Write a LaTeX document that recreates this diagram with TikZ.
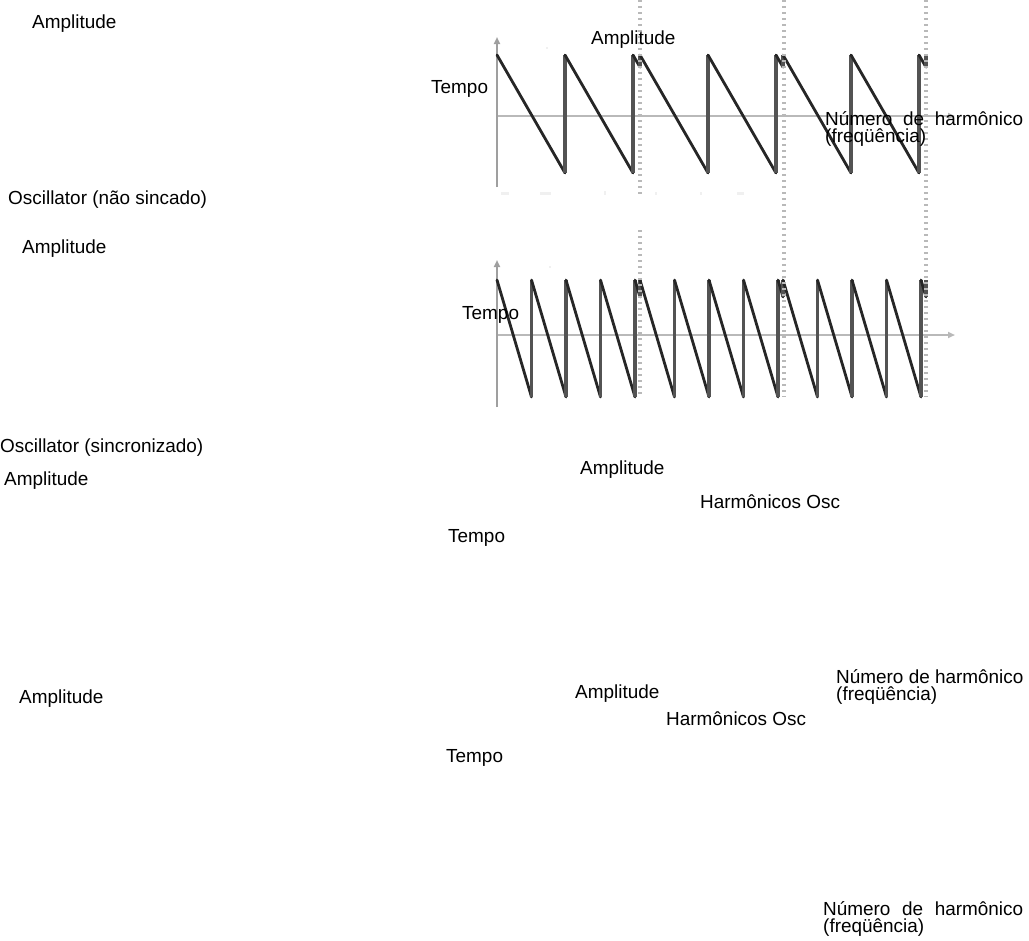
\documentclass[tikz,border=0pt]{standalone}
\usepackage{fontspec}
\setmainfont{Liberation Sans}
\usetikzlibrary{arrows.meta}

% one row of sawtooth teeth, reset by the master oscillator every 143 units
% #1 peak y, #2 trough y, #3 period of the slave, #4 complete teeth per master period
\newcommand\sawrow[4]{%
  \foreach \xs in {497,640,783}{
    \foreach \k in {1,...,#4}{
      \pgfmathsetmacro\xa{\xs+(\k-1)*#3}
      \pgfmathsetmacro\xb{\xs+\k*#3}
      \draw[fall] (\xa,#1) -- (\xb,#2);
      \draw[rise] (\xb,#2) -- (\xb,#1);
    }
    \pgfmathsetmacro\xc{\xs+#4*#3}
    \pgfmathsetmacro\xd{\xs+143}
    \pgfmathsetmacro\yd{#1+(#2-#1)*(143-#4*#3)/#3}
    \draw[fall] (\xc,#1) -- (\xd,\yd);
    \draw[rise] (\xd,\yd) -- (\xd,#1);
  }%
}

\begin{document}
\begin{tikzpicture}[x=1bp,y=-1bp,
  lbl/.style={anchor=base west,inner sep=0pt,font=\fontsize{19}{17}\selectfont},
  axis/.style={draw=gray!55,line width=1.8bp},
  axisv/.style={draw=gray!75,line width=1.8bp},
  tip/.style={-{Triangle[length=7bp,width=6bp]}},
  syncline/.style={draw=gray!55,line width=3.5bp,dash pattern=on 1.8bp off 4.2bp},
  fall/.style={draw=black!85,line width=2.8bp,line cap=round},
  rise/.style={draw=gray!65!black,line width=3.6bp},
  smudge/.style={fill=gray!12,draw=none}]

\useasboundingbox (0,0) rectangle (1029,941);

% ---------- axes of the two oscillator plots ----------
\coordinate (o1) at (497,116);
\coordinate (y1b) at (497,187);
\coordinate (y1t) at (497,37);
\coordinate (x1e) at (955,116);
\draw[axis,tip] (o1) -- (x1e);
\draw[axisv,tip] (y1b) -- (y1t);

\coordinate (o2) at (497,335);
\coordinate (y2b) at (497,407);
\coordinate (y2t) at (497,260);
\coordinate (x2e) at (955,335);
\draw[axis,tip] (o2) -- (x2e);
\draw[axisv,tip] (y2b) -- (y2t);

% faint tick remnants
\fill[smudge] (501,192) rectangle (509,195);
\fill[smudge] (540,192) rectangle (551,194.5);
\fill[smudge] (604,191) rectangle (606,195);
\fill[smudge] (655,192) rectangle (657,195);
\fill[smudge] (700,192) rectangle (702,195);
\fill[smudge] (737,192) rectangle (744,195);
\fill[smudge] (546,47) rectangle (548,49);
\fill[smudge] (549,266) rectangle (551,268);

% ---------- waveforms ----------
\sawrow{55}{173}{68}{2}
\sawrow{280}{397}{34.5}{4}

% ---------- master oscillator reset instants ----------
\coordinate (s1a) at (640,0);   \coordinate (s1b) at (640,197);
\coordinate (s1c) at (640,230); \coordinate (s1d) at (640,397);
\coordinate (s2a) at (784,0);   \coordinate (s2b) at (784,397);
\coordinate (s3a) at (926,0);   \coordinate (s3b) at (926,397);
\draw[syncline] (s1a) -- (s1b);
\draw[syncline] (s1c) -- (s1d);
\draw[syncline] (s2a) -- (s2b);
\draw[syncline] (s3a) -- (s3b);

% ---------- labels ----------
\node[lbl] (la1) at (32,28) {Amplitude};
\node[lbl] (lo1) at (8,204) {Oscillator (não sincado)};
\node[lbl] (la2) at (22,253) {Amplitude};
\node[lbl] (lo2) at (0,452) {Oscillator (sincronizado)};
\node[lbl] (la3) at (4,485) {Amplitude};
\node[lbl] (la4) at (19,703) {Amplitude};

\node[lbl] (pa1) at (591,44) {Amplitude};
\node[lbl] (pt1) at (431,93) {Tempo};
\node[lbl] (pn1) at (825,125) {\hbox to 198bp{Número\hfill de\hfill harmônico}};
\node[lbl] (pf1) at (825,142) {(freqüência)};
\node[lbl] (pt2) at (462,319) {Tempo};

\node[lbl] (pa3) at (580,474) {Amplitude};
\node[lbl] (ph3) at (700,508) {Harmônicos Osc};
\node[lbl] (pt3) at (448,542) {Tempo};
\node[lbl] (pn3) at (836,683) {Número de harmônico};
\node[lbl] (pf3) at (836,700) {(freqüência)};

\node[lbl] (pa4) at (575,698) {Amplitude};
\node[lbl] (ph4) at (666,725) {Harmônicos Osc};
\node[lbl] (pt4) at (446,762) {Tempo};
\node[lbl] (pn4) at (823,915) {\hbox to 200bp{Número\hfill de\hfill harmônico}};
\node[lbl] (pf4) at (823,932) {(freqüência)};

\end{tikzpicture}
\end{document}
